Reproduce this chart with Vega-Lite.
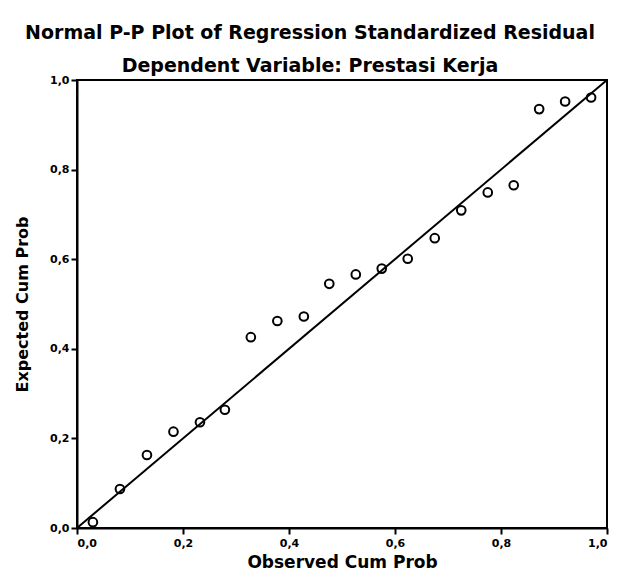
{
  "$schema": "https://vega.github.io/schema/vega-lite/v6.json",
  "width": 530,
  "height": 448,
  "autosize": "none",
  "padding": {"left": 77, "top": 80, "right": 12, "bottom": 49},
  "background": "white",
  "title": {
    "text": "Normal P-P Plot of Regression Standardized Residual",
    "subtitle": "Dependent Variable: Prestasi Kerja",
    "font": "DejaVu Sans",
    "fontWeight": "bold",
    "fontSize": 19,
    "subtitleFont": "DejaVu Sans",
    "subtitleFontWeight": "bold",
    "subtitleFontSize": 19,
    "subtitleColor": "black",
    "color": "black",
    "subtitlePadding": 14,
    "anchor": "middle",
    "dx": -32,
    "offset": -2
  },
  "config": {
    "view": {"stroke": "black", "strokeWidth": 2},
    "axis": {
      "grid": false,
      "domainColor": "black",
      "domainWidth": 2,
      "tickColor": "black",
      "tickWidth": 2,
      "tickSize": 6,
      "labelFont": "DejaVu Sans",
      "labelFontWeight": "bold",
      "labelFontSize": 11,
      "labelColor": "black",
      "titleFont": "DejaVu Sans",
      "titleFontWeight": "bold",
      "titleColor": "black"
    }
  },
  "layer": [
    {
      "data": {"values": [{"o": 0, "e": 0}, {"o": 1, "e": 1}]},
      "mark": {"type": "line", "color": "black", "strokeWidth": 2},
      "encoding": {
        "x": {"field": "o", "type": "quantitative"},
        "y": {"field": "e", "type": "quantitative"}
      }
    },
    {
      "data": {"values": [
        {"o": 0.030, "e": 0.013},
        {"o": 0.081, "e": 0.087},
        {"o": 0.132, "e": 0.163},
        {"o": 0.182, "e": 0.215},
        {"o": 0.232, "e": 0.236},
        {"o": 0.279, "e": 0.264},
        {"o": 0.328, "e": 0.426},
        {"o": 0.378, "e": 0.462},
        {"o": 0.428, "e": 0.472},
        {"o": 0.476, "e": 0.545},
        {"o": 0.526, "e": 0.566},
        {"o": 0.575, "e": 0.579},
        {"o": 0.624, "e": 0.601},
        {"o": 0.675, "e": 0.647},
        {"o": 0.725, "e": 0.709},
        {"o": 0.775, "e": 0.749},
        {"o": 0.824, "e": 0.765},
        {"o": 0.872, "e": 0.935},
        {"o": 0.921, "e": 0.952},
        {"o": 0.970, "e": 0.961}
      ]},
      "mark": {"type": "point", "shape": "circle", "filled": false, "color": "black", "size": 75, "strokeWidth": 2, "opacity": 1},
      "encoding": {
        "x": {
          "field": "o", "type": "quantitative",
          "scale": {"domain": [0, 1], "nice": false},
          "axis": {"values": [0, 0.2, 0.4, 0.6, 0.8, 1], "labelExpr": "replace(format(datum.value, '.1f'), '.', ',')", "title": "Observed Cum Prob", "titleFontSize": 17, "titlePadding": 6, "labelPadding": 3}
        },
        "y": {
          "field": "e", "type": "quantitative",
          "scale": {"domain": [0, 1], "nice": false},
          "axis": {"values": [0, 0.2, 0.4, 0.6, 0.8, 1], "labelExpr": "replace(format(datum.value, '.1f'), '.', ',')", "title": "Expected Cum Prob", "titleFontSize": 16, "titlePadding": 19, "labelPadding": 2}
        }
      }
    }
  ]
}
